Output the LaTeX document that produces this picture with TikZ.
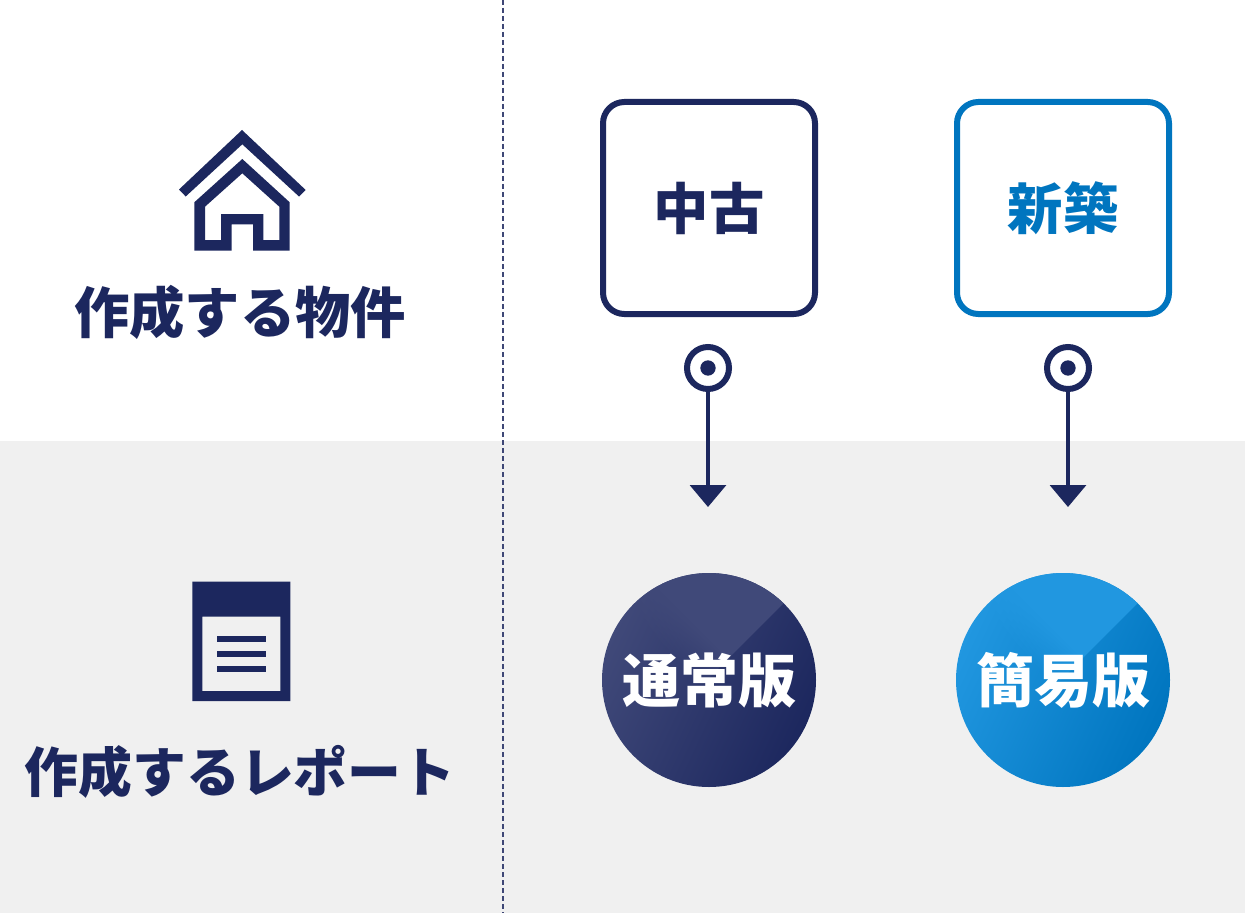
\documentclass[tikz,border=0pt]{standalone}
\usepackage{fontspec}
\setmainfont{Noto Sans CJK JP}
\usetikzlibrary{arrows.meta,positioning,fadings}

\definecolor{navy}{HTML}{1C275E}
\definecolor{navylight}{HTML}{404979}
\definecolor{azure}{HTML}{0075BF}
\definecolor{azurelight}{HTML}{2197E0}
\definecolor{bandgray}{HTML}{F0F0F0}

\pgfdeclarehorizontalshading{gleamshade}{100bp}{color(0bp)=(black); color(47bp)=(black); color(56bp)=(white); color(100bp)=(white)}
\pgfdeclarefading{gleamfade}{\pgfuseshading{gleamshade}}

\begin{document}
\begin{tikzpicture}
  [x=0.75pt,y=-0.75pt,on grid,>={Triangle[width=27pt,length=16.5pt]},
  rowlabel/.style= {inner sep=0pt,text=navy,font=\fontsize{#1}{42}\selectfont\bfseries},
  kindbox/.style= {rectangle,rounded corners=16pt,minimum size=159pt,inner sep=0pt,line width=4.5pt,draw=#1,
    fill=white,text=#1,font=\fontsize{41.5}{42}\selectfont\bfseries},
  reportdisc/.style n args={2}{circle,minimum size=160.5pt,inner sep=0pt,text=white,
    left color=#1,right color=#2,shading angle=65,font=\fontsize{43.5}{44}\selectfont\bfseries,
    path picture={\fill[#1,path fading=gleamfade,fading angle=45] (path picture bounding box.center)
      ++(-110,107.5) -- ++(220,-220) -- ++(-220,0) -- cycle;}},
  marker/.style= {circle,minimum size=31.5pt,inner sep=0pt,line width=4.5pt,draw=navy,fill=white},
  markerdot/.style= {circle,minimum size=11.5pt,inner sep=0pt,fill=navy},
  flow/.style= {->,line width=2.6pt,draw=navy}]
  \useasboundingbox (0,0) rectangle (1245,913);
  \fill[white] (0,0) rectangle (1245,441);
  \fill[bandgray] (0,441) rectangle (1245,913);

  % divider
  \coordinate (dividertop) at (503,0);
  \coordinate (dividerbottom) at (503,913);
  \draw[navy!85!white,line width=0.9pt,dash pattern=on 3.75pt off 2.25pt] (dividertop) -- (dividerbottom);

  % house
  \fill[navy] (242,130) -- (305.7,190) -- (299,196.5) -- (242.3,144.3) -- (185.7,196.5) -- (179,189.5) -- cycle;
  \fill[navy,even odd rule] (242.3,159) -- (289.7,202.3) -- (289.7,250.7) -- (253,250.7) -- (253,224.3)
    -- (231.7,224.3) -- (231.7,250.7) -- (194.3,250.7) -- (194.3,202.3) -- cycle
    (242.3,173.3) -- (279.3,206.7) -- (279.3,240) -- (263.3,240) -- (263.3,214) -- (221,214)
    -- (221,240) -- (205,240) -- (205,206.7) -- cycle;

  % sheet
  \fill[navy,even odd rule] (192.3,581.7) rectangle (290.3,701) (202.3,616.7) rectangle (280.3,691);
  \foreach \y in {636.3,651.3,666.3}
    \fill[navy] (217,\y) rectangle (266,\y+5.4);

  \node[rowlabel=41.5] (propertylabel) at (240,312) {作成する物件};
  \node[rowlabel=40.4] (reportlabel) at (240,772) {作成するレポート};

  \node[kindbox=navy] (used) at (709,208) {中古};
  \node[kindbox=azure] (new) [right=265.5pt of used] {新築};

  \node[reportdisc={navylight}{navy}] (standard) [below=354pt of used] {通常版};
  \node[reportdisc={azurelight}{azure}] (simple) [below=354pt of new] {簡易版};

  \node[marker] (usedmark) at (708,368) {};
  \node[markerdot] at (usedmark) {};
  \node[marker] (newmark) [right=270pt of usedmark] {};
  \node[markerdot] at (newmark) {};

  \coordinate (usedend) at (708,507);
  \coordinate (newend) at (1068,507);
  \draw[flow] (usedmark) -- (usedend);
  \draw[flow] (newmark) -- (newend);
\end{tikzpicture}
\end{document}
